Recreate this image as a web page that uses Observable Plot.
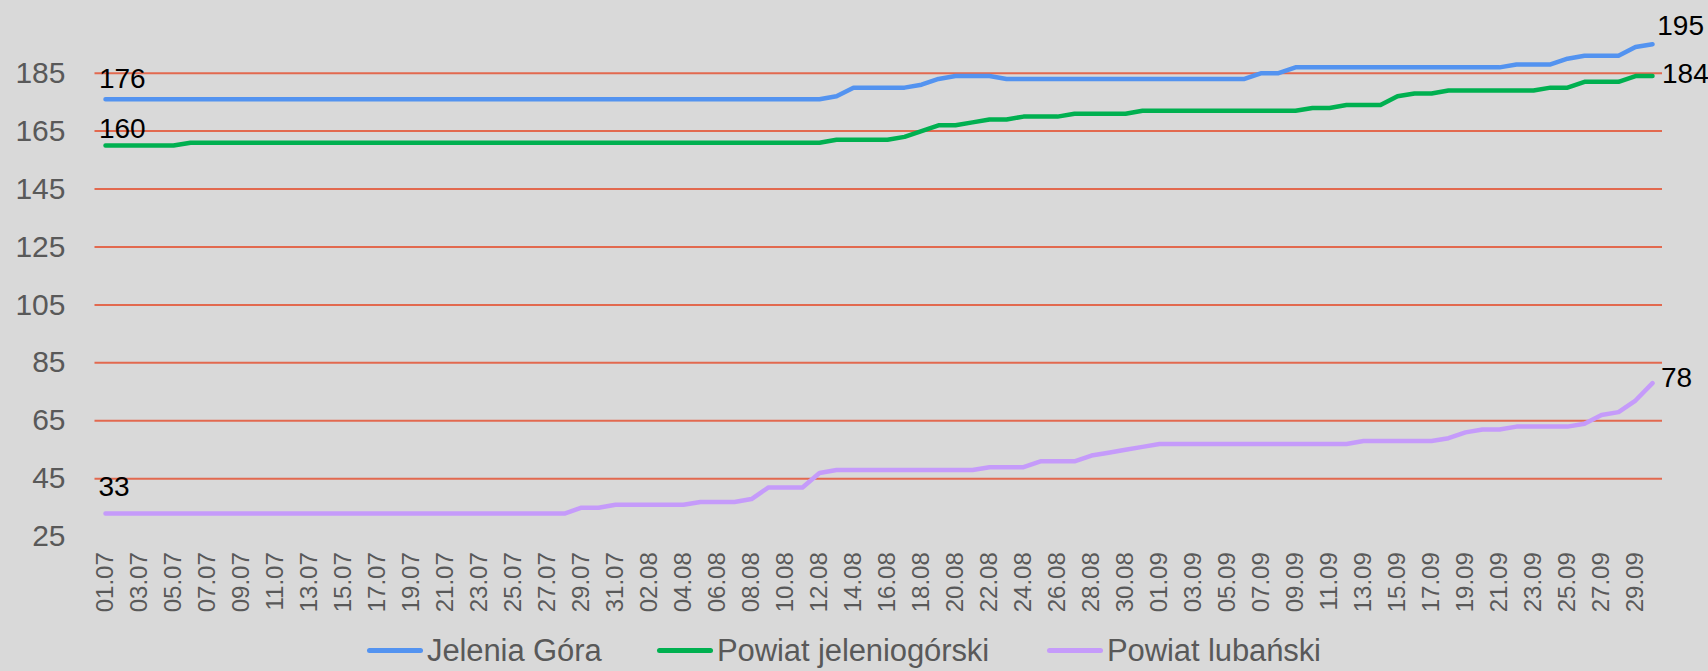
<!DOCTYPE html>
<html>
<head>
<meta charset="utf-8">
<script src="https://cdn.jsdelivr.net/npm/d3@7"></script>
<script src="https://cdn.jsdelivr.net/npm/@observablehq/plot@0.6"></script>
<style>
  html, body { margin: 0; padding: 0; background: #d9d9d9; }
  body { width: 1708px; height: 671px; overflow: hidden; font-family: "Liberation Sans", Arial, sans-serif; }
  #chart svg { display: block; background: #d9d9d9; font-family: "Liberation Sans", Arial, sans-serif; }
  #legend { position: relative; height: 41px; width: 1708px; }
  .item { position: absolute; top: 0; display: flex; align-items: center; height: 41px; }
  .sw { width: 56px; height: 5px; border-radius: 3px; margin-right: 4px; }
  .lab { font-size: 31px; color: #595959; line-height: 41px; letter-spacing: -0.1px; }
</style>
</head>
<body>
<div id="chart"></div>
<div id="legend"></div>
<script>
const dates = [
  "01.07","02.07","03.07","04.07","05.07","06.07","07.07","08.07","09.07","10.07",
  "11.07","12.07","13.07","14.07","15.07","16.07","17.07","18.07","19.07","20.07",
  "21.07","22.07","23.07","24.07","25.07","26.07","27.07","28.07","29.07","30.07","31.07",
  "01.08","02.08","03.08","04.08","05.08","06.08","07.08","08.08","09.08","10.08",
  "11.08","12.08","13.08","14.08","15.08","16.08","17.08","18.08","19.08","20.08",
  "21.08","22.08","23.08","24.08","25.08","26.08","27.08","28.08","29.08","30.08","31.08",
  "01.09","02.09","03.09","04.09","05.09","06.09","07.09","08.09","09.09","10.09",
  "11.09","12.09","13.09","14.09","15.09","16.09","17.09","18.09","19.09","20.09",
  "21.09","22.09","23.09","24.09","25.09","26.09","27.09","28.09","29.09","30.09"
];
const xTickLabels = [
  "01.07","03.07","05.07","07.07","09.07","11.07","13.07","15.07","17.07","19.07",
  "21.07","23.07","25.07","27.07","29.07","31.07","02.08","04.08","06.08","08.08",
  "10.08","12.08","14.08","16.08","18.08","20.08","22.08","24.08","26.08","28.08",
  "30.08","01.09","03.09","05.09","07.09","09.09","11.09","13.09","15.09","17.09",
  "19.09","21.09","23.09","25.09","27.09","29.09"
];
const yTicks = [25, 45, 65, 85, 105, 125, 145, 165, 185];
const seriesNames = ["Jelenia Góra", "Powiat jeleniogórski", "Powiat lubański"];
const seriesColors = ["#5393f0", "#00b050", "#c59bfa"];

const jeleniaGora = [
  176,176,176,176,176,176,176,176,176,176,
  176,176,176,176,176,176,176,176,176,176,
  176,176,176,176,176,176,176,176,176,176,176,
  176,176,176,176,176,176,176,176,176,176,
  176,176,177,180,180,180,180,181,183,184,
  184,184,183,183,183,183,183,183,183,183,183,
  183,183,183,183,183,183,185,185,187,187,
  187,187,187,187,187,187,187,187,187,187,
  187,188,188,188,190,191,191,191,194,195
];
const powiatJeleniogorski = [
  160,160,160,160,160,161,161,161,161,161,
  161,161,161,161,161,161,161,161,161,161,
  161,161,161,161,161,161,161,161,161,161,161,
  161,161,161,161,161,161,161,161,161,161,
  161,161,162,162,162,162,163,165,167,167,
  168,169,169,170,170,170,171,171,171,171,172,
  172,172,172,172,172,172,172,172,172,173,
  173,174,174,174,177,178,178,179,179,179,
  179,179,179,180,180,182,182,182,184,184
];
const powiatLubanski = [
  33,33,33,33,33,33,33,33,33,33,
  33,33,33,33,33,33,33,33,33,33,
  33,33,33,33,33,33,33,33,35,35,36,
  36,36,36,36,37,37,37,38,42,42,
  42,47,48,48,48,48,48,48,48,48,
  48,49,49,49,51,51,51,53,54,55,56,
  57,57,57,57,57,57,57,57,57,57,
  57,57,58,58,58,58,58,59,61,62,
  62,63,63,63,63,64,67,68,72,78
];
const seriesValues = [jeleniaGora, powiatJeleniogorski, powiatLubanski];

const rows = seriesValues.flatMap((vals, s) =>
  vals.map((v, i) => ({series: seriesNames[s], date: dates[i], value: v}))
);
const firstOf = s => ({date: dates[0], value: seriesValues[s][0]});
const lastOf = s => ({date: dates[dates.length - 1], value: seriesValues[s][seriesValues[s].length - 1]});

const labelFont = {fontSize: 28, fill: "#000", textAnchor: "start"};
const lbl = (d, dx, dy) => Plot.text([d], {x: "date", y: "value", text: r => String(r.value), dx, dy, ...labelFont});

const chart = Plot.plot({
  width: 1708,
  height: 630,
  marginLeft: 94.5,
  marginRight: 46,
  marginTop: 14.7,
  marginBottom: 93.8,
  style: {background: "#d9d9d9", color: "#595959", fontFamily: "Liberation Sans, Arial, sans-serif"},
  x: {type: "point", domain: dates, padding: 0.5, label: null},
  y: {domain: [25, 205], label: null},
  marks: [
    Plot.ruleY(yTicks.filter(t => t > 25), {stroke: "#e2694f", strokeWidth: 2}),
    Plot.axisY({ticks: yTicks, tickSize: 0, tickPadding: 29.5, fontSize: 30, fill: "#595959", label: null}),
    Plot.axisX({ticks: xTickLabels, tickSize: 0, tickPadding: 15.5, tickRotate: -90, fontSize: 24, fill: "#595959", label: null}),
    Plot.line(rows, {
      x: "date", y: "value", z: "series",
      stroke: d => seriesColors[seriesNames.indexOf(d.series)],
      strokeWidth: 4.5, strokeLinecap: "round", strokeLinejoin: "round"
    }),
    lbl(firstOf(0), -6.6, -20),
    lbl(firstOf(1), -6.6, -17),
    lbl(firstOf(2), -7, -26.3),
    lbl(lastOf(0), 4.8, -17.7),
    lbl(lastOf(1), 9.5, -2.3),
    lbl(lastOf(2), 8.5, -5)
  ]
});
document.getElementById("chart").appendChild(chart);

// legend
const legend = document.getElementById("legend");
const lefts = [367, 657, 1047];
seriesNames.forEach((name, s) => {
  const item = document.createElement("div");
  item.className = "item";
  item.style.left = lefts[s] + "px";
  const sw = document.createElement("div");
  sw.className = "sw";
  sw.style.background = seriesColors[s];
  const lab = document.createElement("span");
  lab.className = "lab";
  lab.textContent = name;
  item.appendChild(sw);
  item.appendChild(lab);
  legend.appendChild(item);
});
</script>
</body>
</html>
